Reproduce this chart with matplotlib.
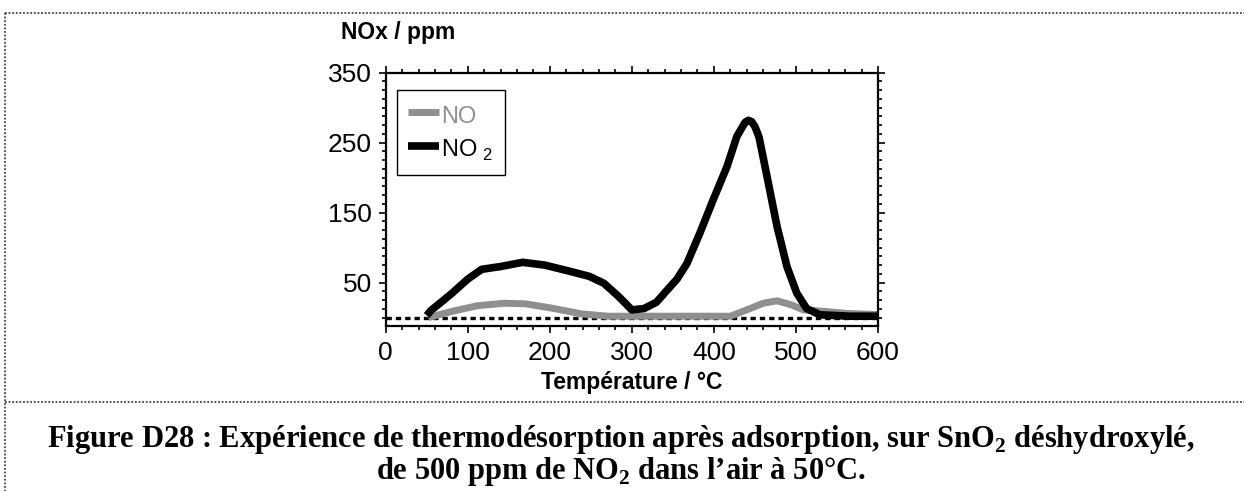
import matplotlib
matplotlib.use('Agg')
import matplotlib.pyplot as plt
from matplotlib.lines import Line2D
from matplotlib.ticker import MultipleLocator, FixedLocator

plt.rcParams['font.family'] = ['Liberation Sans', 'DejaVu Sans']
plt.rcParams['mathtext.fontset'] = 'custom'
plt.rcParams['mathtext.rm'] = 'Liberation Serif:bold'
plt.rcParams['mathtext.sf'] = 'Liberation Sans'

# ---- data ----
temp_no2 = [50, 55, 81, 100, 117, 140, 167, 194, 225, 248, 266, 284, 300,
            315, 330, 342, 355, 367, 383, 399, 416, 428, 434, 438, 442, 446,
            450, 455, 464, 477, 489, 501, 513, 529, 566, 600]
no2_ppm = [3, 10, 35, 55, 69, 73, 79, 75, 66, 59, 49, 30, 11,
           13, 22, 38, 55, 77, 121, 168, 216, 259, 271, 279, 282, 280,
           273, 258, 206, 130, 73, 35, 13, 4, 2, 2]

temp_no = [52, 81, 112, 144, 171, 203, 239, 271, 300, 350, 420, 440, 460,
           477, 495, 509, 537, 562, 600]
no_ppm = [0, 9, 17, 20.5, 19.6, 13.4, 5.3, 2, 2, 2, 2, 11, 20.5,
          24, 18, 11, 8.6, 6, 4.3]

baseline_ppm = -1
x_ticks = [0, 100, 200, 300, 400, 500, 600]
y_ticks = [50, 150, 250, 350]

ylabel_text = 'NOx / ppm'
xlabel_text = 'Température / °C'
caption_1 = r'Figure D28 : Expérience de thermodésorption après adsorption, sur SnO$_{2}$ déshydroxylé,'
caption_2 = r'de 500 ppm de NO$_{2}$ dans l’air à 50°C.'

W, H = 1244, 491
fig = plt.figure(figsize=(W / 100, H / 100), dpi=100)

ax_l, ax_r, ax_t, ax_b = 385.7, 878.0, 72.7, 326.0
ax = fig.add_axes([ax_l / W, 1 - ax_b / H, (ax_r - ax_l) / W, (ax_b - ax_t) / H])

ax.axhline(baseline_ppm, color='black', lw=2.4, ls=(0, (1.6, 1.2)), zorder=1)
l_no, = ax.plot(temp_no, no_ppm, color='#8f8f8f', lw=5, solid_capstyle='butt',
                solid_joinstyle='round', zorder=2)
l_no2, = ax.plot(temp_no2, no2_ppm, color='black', lw=5.5, solid_capstyle='butt',
                 solid_joinstyle='round', zorder=3)

ax.set_xlim(0, 600)
ax.set_ylim(-12, 350)
ax.xaxis.set_major_locator(FixedLocator(x_ticks))
ax.xaxis.set_minor_locator(MultipleLocator(20))
ax.yaxis.set_major_locator(FixedLocator(y_ticks))
ax.yaxis.set_minor_locator(MultipleLocator(12.5))
ax.tick_params(which='both', direction='out', top=True, right=True,
               labeltop=False, labelright=False, width=1.2, colors='black')
ax.tick_params(which='major', length=5, labelsize=19, pad=5)
ax.tick_params(which='minor', length=3)
ax.tick_params(axis='x', which='major', pad=6)
for s in ax.spines.values():
    s.set_linewidth(1.6)

leg = ax.legend([l_no, l_no2], ['NO', r'NO$_{\ \mathsf{2}}$'], loc='upper left',
                bbox_to_anchor=(0.022, 0.932), borderaxespad=0, fancybox=False,
                edgecolor='black', framealpha=1, fontsize=17, handlelength=1.3,
                handleheight=1.3, handletextpad=0.1, borderpad=0.5, labelspacing=0.35,
                labelcolor=['#8f8f8f', 'black'])
leg.get_frame().set_linewidth(1.0)

fig.text(341 / W, 1 - 32 / H, ylabel_text, fontsize=16.5, fontweight='bold',
         ha='left', va='center')
fig.text((ax_l + ax_r) / 2 / W, 1 - 383 / H, xlabel_text, fontsize=16.5,
         fontweight='bold', ha='center', va='center')

cap_kw = dict(fontsize=22, fontweight='bold', family=['Liberation Serif', 'DejaVu Serif'],
              ha='center', va='center')
fig.text(621 / W, 1 - 440 / H, caption_1, **cap_kw)
fig.text(621 / W, 1 - 472 / H, caption_2, **cap_kw)

# frame of the figure block (dotted)
dot = dict(color='#444444', lw=1.3, ls=(0, (1, 1)))
fig.add_artist(Line2D([5 / W, 1], [1 - 13 / H, 1 - 13 / H], transform=fig.transFigure, **dot))
fig.add_artist(Line2D([5 / W, 5 / W], [1 - 13 / H, 0], transform=fig.transFigure, **dot))
fig.add_artist(Line2D([5 / W, 1], [1 - 402 / H, 1 - 402 / H], transform=fig.transFigure, **dot))

fig.savefig('out.png', dpi=100)
